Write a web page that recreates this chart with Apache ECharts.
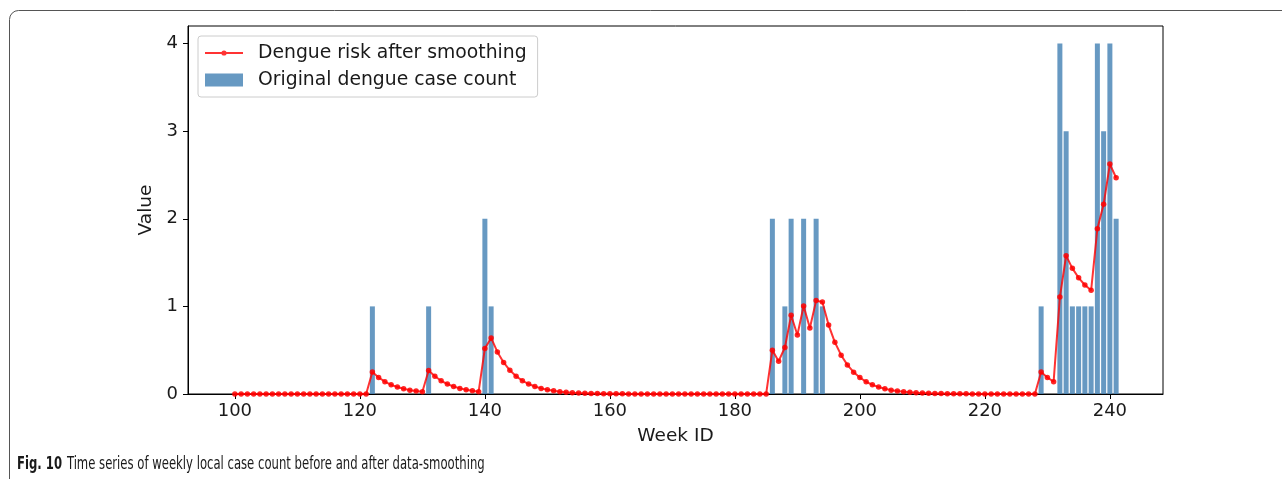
<!DOCTYPE html>
<html>
<head>
<meta charset="utf-8">
<script src="https://cdn.jsdelivr.net/npm/echarts@6/dist/echarts.min.js"></script>
<style>
html,body{margin:0;padding:0;background:#fff;}
#chart{width:1282px;height:479px;}
</style>
</head>
<body>
<div id="chart"></div>
<script>
// Week IDs of the smoothed series (100..241)
const lineWeeks = [100,101,102,103,104,105,106,107,108,109,110,111,112,113,114,115,116,117,118,119,120,121,122,123,124,125,126,127,128,129,130,131,132,133,134,135,136,137,138,139,140,141,142,143,144,145,146,147,148,149,150,151,152,153,154,155,156,157,158,159,160,161,162,163,164,165,166,167,168,169,170,171,172,173,174,175,176,177,178,179,180,181,182,183,184,185,186,187,188,189,190,191,192,193,194,195,196,197,198,199,200,201,202,203,204,205,206,207,208,209,210,211,212,213,214,215,216,217,218,219,220,221,222,223,224,225,226,227,228,229,230,231,232,233,234,235,236,237,238,239,240,241];
// Dengue risk after smoothing
const riskValues = [
  0,0,0,0,0,0,0,0,0,0,            // 100-109
  0,0,0,0,0,0,0,0,0,0,            // 110-119
  0,0,0.25,0.188,0.141,0.105,0.079,0.059,0.044,0.033,   // 120-129
  0.025,0.269,0.202,0.151,0.114,0.085,0.064,0.048,0.036,0.027, // 130-139
  0.52,0.64,0.48,0.36,0.27,0.203,0.152,0.114,0.086,0.064,      // 140-149
  0.048,0.036,0.027,0.02,0.015,0.011,0.009,0.006,0.005,0.004,  // 150-159
  0.003,0.002,0.002,0.001,0.001,0.001,0,0,0,0,                 // 160-169
  0,0,0,0,0,0,0,0,0,0,                                         // 170-179
  0,0,0,0,0,0,0.5,0.375,0.531,0.898,                           // 180-189
  0.674,1.005,0.754,1.066,1.049,0.787,0.59,0.443,0.332,0.249,  // 190-199
  0.187,0.14,0.105,0.079,0.059,0.044,0.033,0.025,0.019,0.014,  // 200-209
  0.011,0.008,0.006,0.005,0.003,0.003,0.002,0.002,0.001,0.001, // 210-219
  0.001,0,0,0,0,0,0,0,0,0.25,                                  // 220-229
  0.188,0.141,1.106,1.579,1.434,1.326,1.244,1.183,1.887,2.165, // 230-239
  2.624,2.468                                                  // 240-241
];
// Original dengue case counts (non-zero weeks)
const barWeeks  = [122,131,140,141,186,188,189,191,193,194,229,232,233,234,235,236,237,238,239,240,241];
const barCounts = [1,1,2,1,2,1,2,2,2,1,1,4,3,1,1,1,1,4,3,4,2];
// Tick labels
const xTicks = [100,120,140,160,180,200,220,240];
const yTicks = [0,1,2,3,4];

const lineData = lineWeeks.map((w,i)=>[w, riskValues[i]]);
const barData = barWeeks.map((w,i)=>[w, barCounts[i]]);

const FONT = 'DejaVu Sans';
const TXT = '#1a1a1a';
const chart = echarts.init(document.getElementById('chart'), null, {renderer:'canvas'});
chart.setOption({
  animation: false,
  backgroundColor: '#fff',
  textStyle: {fontFamily: FONT},
  grid: {left:188, top:26, right:119, bottom:85, show:true, borderColor:'#000', borderWidth:1, backgroundColor:'transparent'},
  legend: {
    orient: 'vertical', left: 198, top: 36,
    padding: [6, 11, 6, 7], itemGap: 5,
    itemWidth: 38, itemHeight: 13,
    symbolKeepAspect: true,
    backgroundColor: 'rgba(255,255,255,0.8)',
    borderColor: '#cccccc', borderWidth: 1, borderRadius: 3,
    textStyle: {fontFamily: FONT, fontSize: 18.8, color: TXT, padding:[0,0,0,10], lineHeight: 22},
    data: [
      {name:'Dengue risk after smoothing',
       icon:'path://M0,5.6L38,5.6L38,7.4L0,7.4Z M21.6,6.5A2.6,2.6 0 1 1 16.4,6.5A2.6,2.6 0 1 1 21.6,6.5Z',
       itemStyle:{color:'rgba(255,0,0,0.8)'}},
      {name:'Original dengue case count', icon:'rect'}
    ]
  },
  xAxis: {
    type: 'value', min: 92.5, max: 248.5,
    name: 'Week ID', nameLocation: 'middle', nameGap: 33,
    nameTextStyle: {fontFamily: FONT, fontSize: 18.5, color: TXT},
    axisLine: {show:true, onZero:false, lineStyle:{color:'#000', width:1}},
    axisTick: {show:true, length:5, lineStyle:{color:'#000'}, customValues: xTicks},
    axisLabel: {fontFamily: FONT, fontSize: 18, color: TXT, margin: 8, customValues: xTicks},
    splitLine: {show:false}
  },
  yAxis: {
    type: 'value', min: 0, max: 4.2,
    name: 'Value', nameLocation: 'middle', nameGap: 27,
    nameTextStyle: {fontFamily: FONT, fontSize: 18.5, color: TXT},
    axisLine: {show:true, lineStyle:{color:'#000', width:1}},
    axisTick: {show:true, length:5, lineStyle:{color:'#000'}, customValues: yTicks},
    axisLabel: {fontFamily: FONT, fontSize: 18, color: TXT, margin: 10, customValues: yTicks},
    splitLine: {show:false}
  },
  series: [
    {
      name: 'Dengue risk after smoothing', type: 'line', data: lineData,
      z: 5, symbol: 'circle', symbolSize: 5.5, showSymbol: true,
      lineStyle: {color:'rgba(255,0,0,0.8)', width: 2},
      itemStyle: {color:'rgba(255,0,0,0.85)'}
    },
    {
      name: 'Original dengue case count', type: 'bar', data: barData,
      barWidth: 5, z: 2,
      itemStyle: {color:'rgba(70,130,180,0.82)'}
    }
  ],
  graphic: [
    {
      type: 'rect', silent: true, z: 0,
      shape: {x: 9.5, y: 10.5, width: 1400, height: 600, r: 9},
      style: {fill: 'none', stroke: '#555', lineWidth: 1}
    },
    {
      type: 'text', x: 17, y: 465, silent: true, scaleX: 0.74, scaleY: 0.96,
      style: {
        text: '{b|Fig. 10}  {n|Time series of weekly local case count before and after data-smoothing}',
        verticalAlign: 'middle',
        rich: {
          b: {fontFamily: 'DejaVu Sans Condensed, DejaVu Sans, sans-serif', fontWeight: 'bold', fontSize: 17.5, fill: TXT},
          n: {fontFamily: 'DejaVu Sans Condensed, DejaVu Sans, sans-serif', fontSize: 17.5, fill: TXT}
        }
      }
    }
  ]
});
</script>
</body>
</html>
